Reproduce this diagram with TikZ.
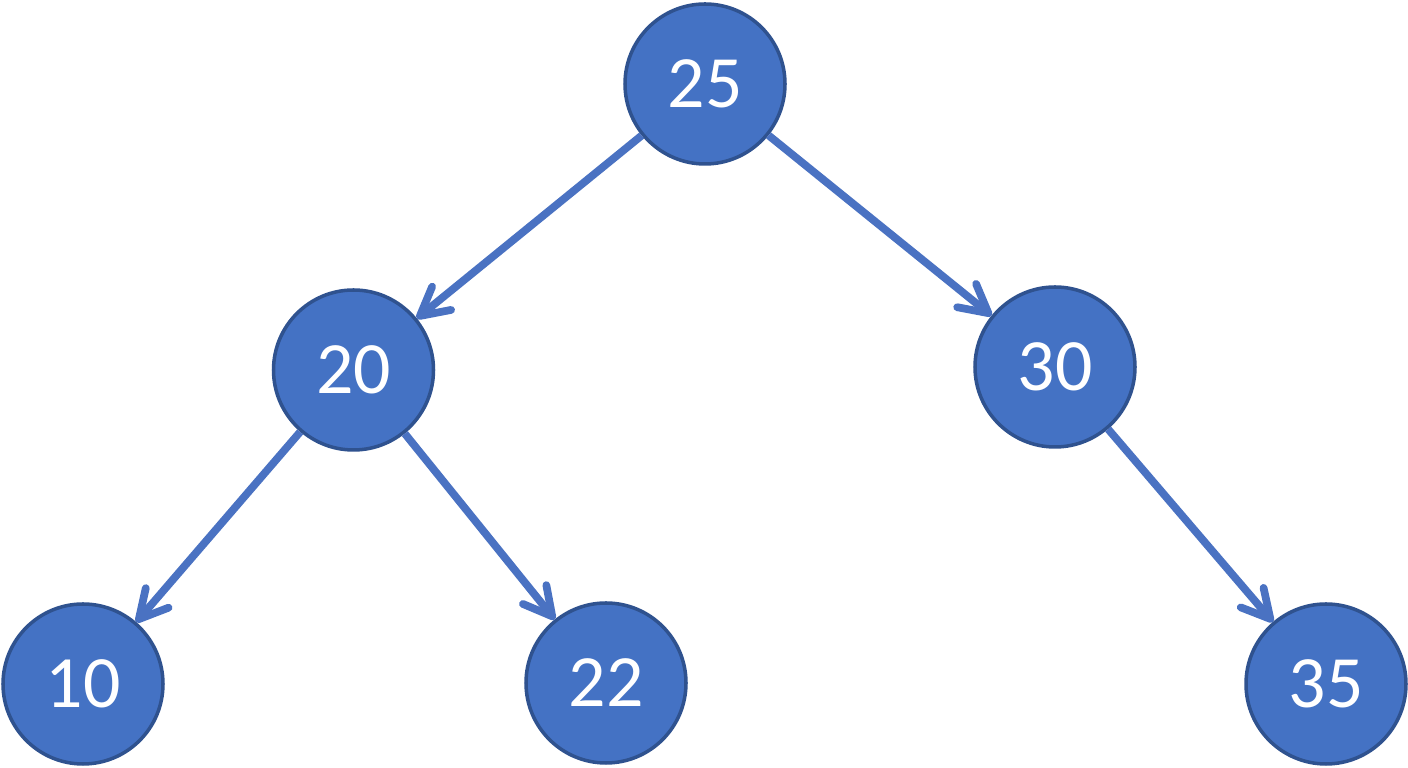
\documentclass[tikz,border=0pt]{standalone}
\usepackage{fontspec}
\setmainfont{Carlito}
\usetikzlibrary{arrows.meta}
\definecolor{nodeblue}{HTML}{4472C4}
\definecolor{rimblue}{HTML}{2F528F}
\definecolor{edgeblue}{HTML}{4A72C2}
\begin{document}
\begin{tikzpicture} [keynode/.style={circle,draw=rimblue,line width=1pt,fill=nodeblue,minimum size=1.6cm,inner sep=0pt,text=white,font=\fontsize{21}{25}\selectfont},
                     branch/.style={draw=edgeblue,line width=2.2pt,-{Straight Barb[length=2.8mm,width=3mm,line cap=round,line join=round]}}]
        \useasboundingbox (0,0) rectangle (14.08,7.68);
        \node[keynode] (n25) at (7.05,6.84) {25};
        \node[keynode] (n20) at (3.535,3.98) {20};
        \node[keynode] (n30) at (10.55,4.01) {30};
        \node[keynode] (n10) at (0.83,0.84) {10};
        \node[keynode] (n22) at (6.06,0.85) {22};
        \node[keynode] (n35) at (13.26,0.84) {35};
%        edges
        \draw [branch] (n25) -- (n20);
        \draw [branch] (n25) -- (n30);
        \draw [branch] (n20) -- (n10);
        \draw [branch] (n20) -- (n22);
        \draw [branch] (n30) -- (n35);
    \end{tikzpicture}
\end{document}
